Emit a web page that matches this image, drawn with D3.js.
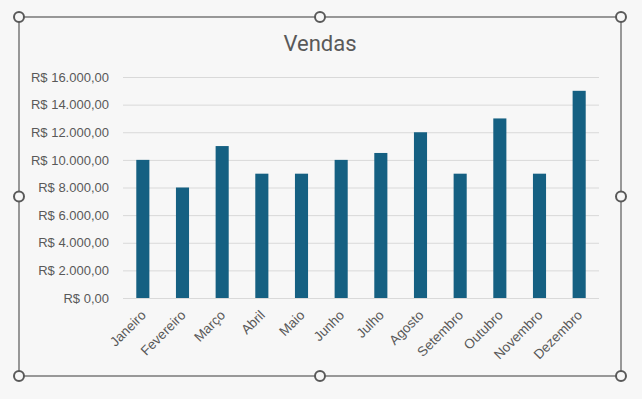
<!DOCTYPE html>
<html>
<head>
<meta charset="utf-8">
<script src="https://cdn.jsdelivr.net/npm/d3@7"></script>
<style>
  html, body { margin: 0; padding: 0; background: #f7f7f7; }
  svg { display: block; font-family: Roboto, "Noto Sans", sans-serif; }
</style>
</head>
<body>
<div id="chart-area"></div>
<script>
const months = ['Janeiro', 'Fevereiro', 'Março', 'Abril', 'Maio', 'Junho',
    'Julho', 'Agosto', 'Setembro', 'Outubro', 'Novembro', 'Dezembro'];
const sales = [10000, 8000, 11000, 9000, 9000, 10000, 10500, 12000, 9000, 13000, 9000, 15000];
const yTicks = [0, 2000, 4000, 6000, 8000, 10000, 12000, 14000, 16000];

const width = 642, height = 399;
const margin = { top: 77, right: 43, bottom: 101, left: 123 };

const svg = d3.select('#chart-area')
    .append('svg')
    .attr('width', width)
    .attr('height', height);

svg.append('rect')
    .attr('width', width).attr('height', height)
    .attr('fill', '#f7f7f7');

// scales
const x = d3.scaleBand()
    .domain(months)
    .range([margin.left, width - margin.right])
    .paddingInner(0.67)
    .paddingOuter(0.335);

const y = d3.scaleLinear()
    .domain([0, 16000])
    .range([height - margin.bottom, margin.top]);

// brazilian currency format
const brl = d3.formatLocale({
    decimal: ',', thousands: '.', grouping: [3], currency: ['R$ ', '']
});
const fmt = brl.format('$,.2f');

// grid
svg.append('g')
    .selectAll('line')
    .data(yTicks)
    .join('line')
    .attr('x1', margin.left)
    .attr('x2', width - margin.right)
    .attr('y1', d => y(d) + 0.5)
    .attr('y2', d => y(d) + 0.5)
    .attr('stroke', '#d9d9d9')
    .attr('stroke-width', 1);

// Y axis
const yAxis = svg.append('g')
    .attr('transform', 'translate(' + (margin.left - 14) + ',0)')
    .call(d3.axisLeft(y).tickValues(yTicks).tickFormat(fmt).tickSize(0).tickPadding(0));
yAxis.select('.domain').remove();
yAxis.selectAll('text')
    .attr('fill', '#595959')
    .style('font-size', '13px');

// bars
svg.append('g')
    .selectAll('rect')
    .data(sales)
    .join('rect')
    .attr('x', (d, i) => x(months[i]))
    .attr('width', x.bandwidth())
    .attr('y', d => y(d))
    .attr('height', d => y(0) - y(d))
    .attr('fill', '#156082');

// X axis
const xAxis = svg.append('g')
    .attr('transform', 'translate(0,' + (height - margin.bottom) + ')')
    .call(d3.axisBottom(x).tickSize(0).tickPadding(0));
xAxis.select('.domain').remove();
xAxis.selectAll('text')
    .attr('fill', '#595959')
    .style('font-size', '13.5px')
    .style('text-anchor', 'end')
    .attr('dy', 0)
    .attr('y', 0)
    .attr('transform', 'translate(4,18) rotate(-45)');

// title
svg.append('text')
    .attr('x', 320)
    .attr('y', 51)
    .attr('text-anchor', 'middle')
    .attr('fill', '#595959')
    .style('font-size', '22px')
    .text('Vendas');

// selection frame and handles
const frame = { x0: 19, y0: 17, x1: 621, y1: 376 };
svg.append('rect')
    .attr('x', frame.x0).attr('y', frame.y0)
    .attr('width', frame.x1 - frame.x0)
    .attr('height', frame.y1 - frame.y0)
    .attr('fill', 'none')
    .attr('stroke', '#666')
    .attr('stroke-width', 1.3);

const midX = (frame.x0 + frame.x1) / 2, midY = (frame.y0 + frame.y1) / 2;
const handles = [
    [frame.x0, frame.y0], [midX, frame.y0], [frame.x1, frame.y0],
    [frame.x0, midY], [frame.x1, midY],
    [frame.x0, frame.y1], [midX, frame.y1], [frame.x1, frame.y1]
];
svg.append('g')
    .selectAll('circle')
    .data(handles)
    .join('circle')
    .attr('cx', d => d[0])
    .attr('cy', d => d[1])
    .attr('r', 5)
    .attr('fill', '#f7f7f7')
    .attr('stroke', '#595959')
    .attr('stroke-width', 2);
</script>
</body>
</html>
